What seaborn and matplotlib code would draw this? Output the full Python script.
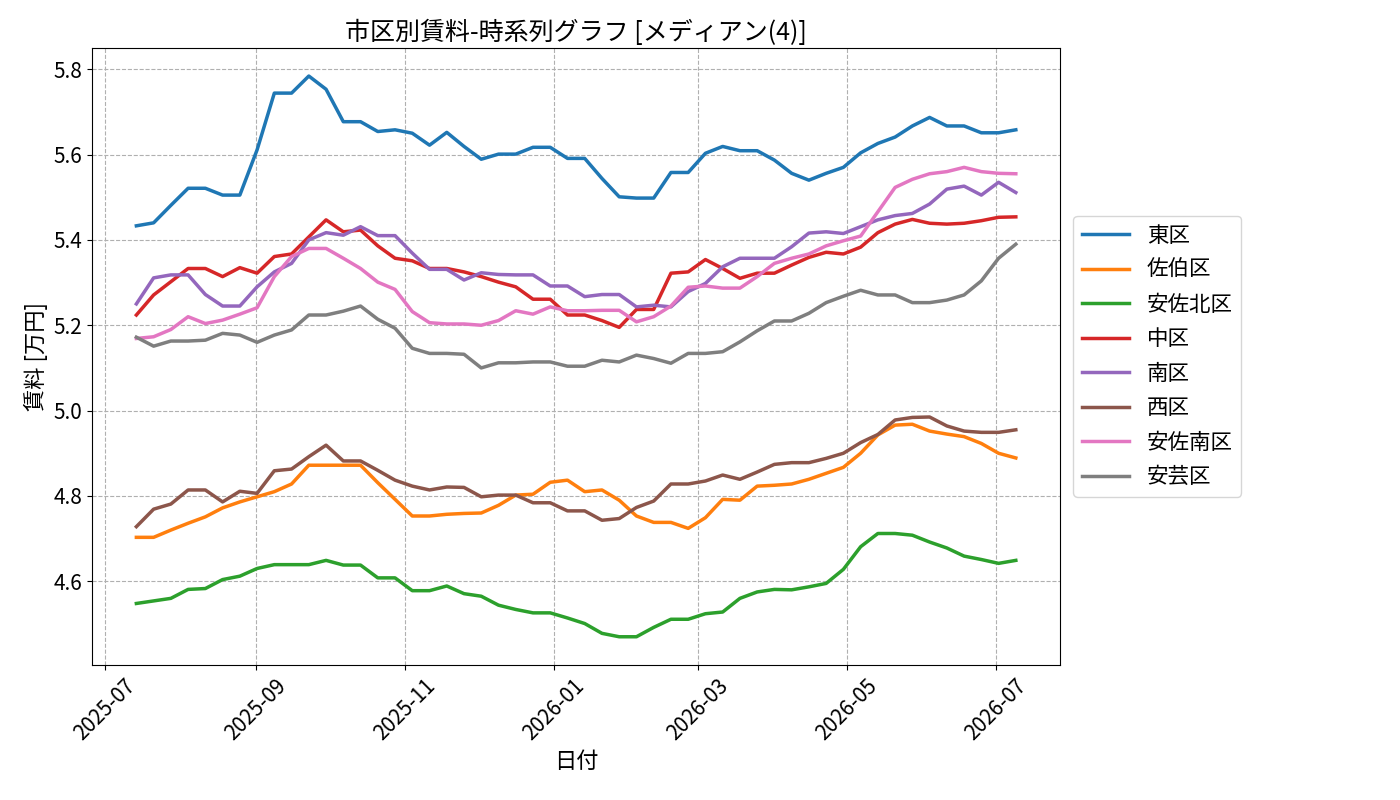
import numpy as np
import pandas as pd
import matplotlib
matplotlib.use("Agg")
import matplotlib.pyplot as plt
import matplotlib.dates as mdates
import seaborn as sns

plt.rcParams['font.family'] = ['Noto Sans CJK JP', 'DejaVu Sans']

# weekly-ish observation dates (52 points)
dates = pd.date_range("2025-07-14", "2026-07-09", periods=52)

wards = ["東区", "佐伯区", "安佐北区", "中区", "南区", "西区", "安佐南区", "安芸区"]

higashi = [5.433, 5.440, 5.481, 5.521, 5.521, 5.505, 5.505, 5.611, 5.744, 5.744,
           5.784, 5.753, 5.677, 5.677, 5.654, 5.658, 5.650, 5.622, 5.652, 5.619,
           5.589, 5.601, 5.601, 5.617, 5.617, 5.591, 5.591, 5.544, 5.501, 5.498,
           5.498, 5.558, 5.558, 5.603, 5.619, 5.609, 5.609, 5.587, 5.556, 5.540,
           5.556, 5.570, 5.604, 5.626, 5.641, 5.667, 5.687, 5.667, 5.667, 5.651,
           5.651, 5.658]
saeki = [4.703, 4.703, 4.720, 4.736, 4.751, 4.772, 4.786, 4.798, 4.810, 4.828,
         4.872, 4.872, 4.872, 4.872, 4.831, 4.792, 4.753, 4.753, 4.757, 4.759,
         4.760, 4.778, 4.802, 4.804, 4.832, 4.837, 4.810, 4.814, 4.790, 4.753,
         4.738, 4.738, 4.724, 4.749, 4.792, 4.790, 4.823, 4.825, 4.828, 4.839,
         4.853, 4.867, 4.900, 4.943, 4.966, 4.968, 4.952, 4.945, 4.939, 4.923,
         4.900, 4.889]
asakita = [4.548, 4.554, 4.560, 4.581, 4.583, 4.604, 4.612, 4.630, 4.639, 4.639,
           4.639, 4.649, 4.638, 4.638, 4.608, 4.608, 4.578, 4.578, 4.589, 4.571,
           4.565, 4.544, 4.534, 4.526, 4.526, 4.514, 4.501, 4.478, 4.470, 4.470,
           4.492, 4.511, 4.511, 4.524, 4.528, 4.560, 4.575, 4.581, 4.580, 4.587,
           4.595, 4.628, 4.681, 4.712, 4.712, 4.708, 4.692, 4.678, 4.659, 4.651,
           4.642, 4.649]
naka = [5.224, 5.271, 5.302, 5.333, 5.333, 5.314, 5.335, 5.322, 5.361, 5.367,
        5.407, 5.447, 5.419, 5.423, 5.386, 5.357, 5.351, 5.333, 5.333, 5.325,
        5.314, 5.301, 5.290, 5.261, 5.261, 5.224, 5.224, 5.211, 5.195, 5.237,
        5.237, 5.322, 5.325, 5.354, 5.333, 5.310, 5.322, 5.322, 5.341, 5.359,
        5.371, 5.367, 5.383, 5.417, 5.437, 5.448, 5.439, 5.437, 5.439, 5.445,
        5.453, 5.454]
minami = [5.250, 5.311, 5.318, 5.318, 5.272, 5.245, 5.245, 5.290, 5.325, 5.345,
          5.400, 5.417, 5.411, 5.431, 5.410, 5.410, 5.369, 5.331, 5.331, 5.306,
          5.323, 5.319, 5.318, 5.318, 5.292, 5.292, 5.267, 5.272, 5.272, 5.243,
          5.247, 5.243, 5.279, 5.298, 5.337, 5.357, 5.357, 5.357, 5.384, 5.416,
          5.419, 5.415, 5.431, 5.447, 5.457, 5.462, 5.484, 5.519, 5.526, 5.505,
          5.535, 5.511]
nishi = [4.728, 4.769, 4.781, 4.814, 4.814, 4.786, 4.811, 4.806, 4.859, 4.863,
         4.892, 4.919, 4.882, 4.882, 4.860, 4.837, 4.823, 4.814, 4.821, 4.820,
         4.798, 4.802, 4.802, 4.784, 4.784, 4.765, 4.765, 4.743, 4.747, 4.773,
         4.788, 4.828, 4.828, 4.835, 4.849, 4.839, 4.856, 4.874, 4.878, 4.878,
         4.888, 4.900, 4.925, 4.944, 4.978, 4.984, 4.985, 4.964, 4.952, 4.949,
         4.949, 4.955]
asaminami = [5.169, 5.173, 5.190, 5.220, 5.204, 5.212, 5.226, 5.241, 5.314, 5.361,
             5.380, 5.380, 5.357, 5.333, 5.301, 5.284, 5.232, 5.206, 5.203, 5.203,
             5.200, 5.211, 5.234, 5.226, 5.243, 5.234, 5.234, 5.235, 5.235, 5.208,
             5.220, 5.245, 5.289, 5.292, 5.287, 5.287, 5.314, 5.345, 5.357, 5.367,
             5.386, 5.398, 5.409, 5.466, 5.523, 5.542, 5.555, 5.560, 5.570, 5.560,
             5.556, 5.555]
aki = [5.172, 5.151, 5.163, 5.163, 5.165, 5.181, 5.177, 5.160, 5.177, 5.189,
       5.224, 5.224, 5.233, 5.245, 5.214, 5.193, 5.146, 5.134, 5.134, 5.132,
       5.100, 5.112, 5.112, 5.114, 5.114, 5.104, 5.104, 5.118, 5.114, 5.130,
       5.122, 5.111, 5.134, 5.134, 5.138, 5.161, 5.187, 5.210, 5.210, 5.228,
       5.253, 5.268, 5.282, 5.271, 5.271, 5.253, 5.253, 5.259, 5.271, 5.304,
       5.357, 5.390]

series = [higashi, saeki, asakita, naka, minami, nishi, asaminami, aki]
df = pd.concat([
    pd.DataFrame({"日付": dates, "賃料": vals, "区": name})
    for name, vals in zip(wards, series)
])

fig, ax = plt.subplots(figsize=(14, 8), dpi=100)
fig.subplots_adjust(left=0.066, right=0.757, bottom=0.169, top=0.94)

sns.lineplot(data=df, x="日付", y="賃料", hue="区", hue_order=wards,
             palette="tab10", linewidth=2.5, ax=ax)

ax.set_title("市区別賃料-時系列グラフ [メディアン(4)]", fontsize=18)
ax.set_xlabel("日付", fontsize=16)
ax.set_ylabel("賃料 [万円]", fontsize=16)
ax.grid(True, linestyle="--", color="#b0b0b0", linewidth=0.8)
ax.xaxis.set_major_locator(mdates.MonthLocator(interval=2))
ax.xaxis.set_major_formatter(mdates.DateFormatter("%Y-%m"))
ax.tick_params(axis="both", labelsize=15)
plt.setp(ax.get_xticklabels(), rotation=45)

handles, labels = ax.get_legend_handles_labels()
ax.legend(handles, labels, loc="center left", bbox_to_anchor=(1.003, 0.5),
          fontsize=15.5, handlelength=2.2, labelspacing=0.58)

fig.savefig("out.png")
